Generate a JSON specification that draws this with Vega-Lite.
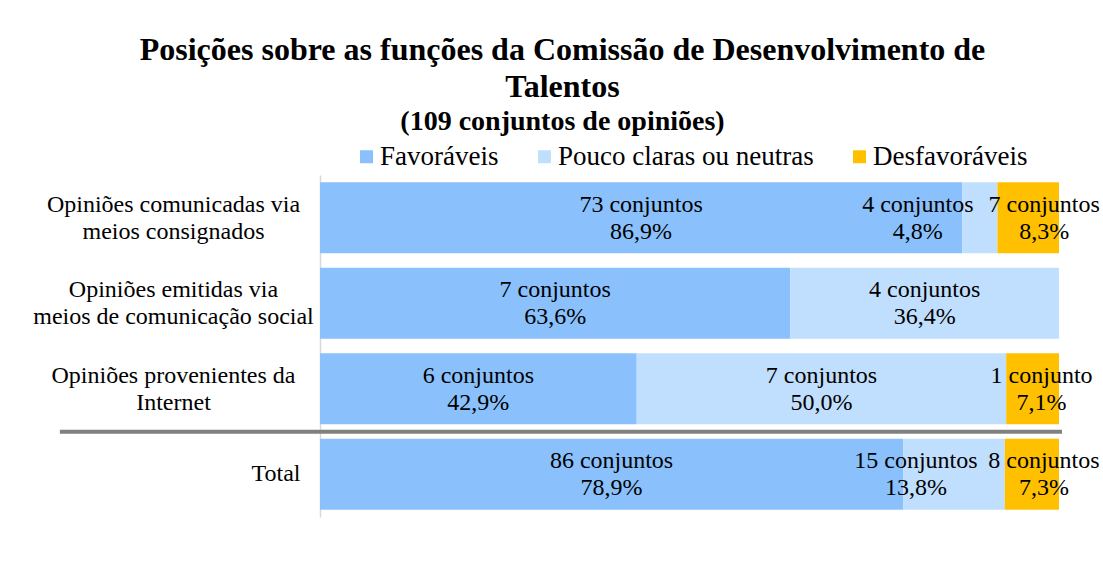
{
  "$schema": "https://vega.github.io/schema/vega-lite/v6.json",
  "width": 739,
  "height": 342,
  "autosize": {"type": "none"},
  "padding": {"left": 320, "top": 175, "right": 44, "bottom": 51},
  "background": "white",
  "config": {"view": {"stroke": null}, "font": "Liberation Serif"},
  "title": {
    "text": ["Posições sobre as funções da Comissão de Desenvolvimento de", "Talentos"],
    "subtitle": "(109 conjuntos de opiniões)",
    "font": "Liberation Serif",
    "fontSize": 32,
    "fontWeight": "bold",
    "lineHeight": 37,
    "color": "black",
    "subtitleFont": "Liberation Serif",
    "subtitleFontSize": 28,
    "subtitleFontWeight": "bold",
    "subtitleColor": "black",
    "subtitleLineHeight": 28,
    "subtitlePadding": 4,
    "anchor": "middle",
    "dx": -127,
    "offset": 6
  },
  "data": {
    "values": [
      {"category": "Opiniões comunicadas via|meios consignados", "group": "Favoráveis", "ord": 1, "count": 73, "label": "73 conjuntos\n86,9%"},
      {"category": "Opiniões comunicadas via|meios consignados", "group": "Pouco claras ou neutras", "ord": 2, "count": 4, "label": "4 conjuntos\n4,8%"},
      {"category": "Opiniões comunicadas via|meios consignados", "group": "Desfavoráveis", "ord": 3, "count": 7, "label": "7 conjuntos\n8,3%"},
      {"category": "Opiniões emitidas via|meios de comunicação social", "group": "Favoráveis", "ord": 1, "count": 7, "label": "7 conjuntos\n63,6%"},
      {"category": "Opiniões emitidas via|meios de comunicação social", "group": "Pouco claras ou neutras", "ord": 2, "count": 4, "label": "4 conjuntos\n36,4%"},
      {"category": "Opiniões provenientes da|Internet", "group": "Favoráveis", "ord": 1, "count": 6, "label": "6 conjuntos\n42,9%"},
      {"category": "Opiniões provenientes da|Internet", "group": "Pouco claras ou neutras", "ord": 2, "count": 7, "label": "7 conjuntos\n50,0%"},
      {"category": "Opiniões provenientes da|Internet", "group": "Desfavoráveis", "ord": 3, "count": 1, "label": "1 conjunto\n7,1%"},
      {"category": "Total", "group": "Favoráveis", "ord": 1, "count": 86, "label": "86 conjuntos\n78,9%"},
      {"category": "Total", "group": "Pouco claras ou neutras", "ord": 2, "count": 15, "label": "15 conjuntos\n13,8%"},
      {"category": "Total", "group": "Desfavoráveis", "ord": 3, "count": 8, "label": "8 conjuntos\n7,3%"}
    ]
  },
  "layer": [
    {
      "mark": {"type": "bar"},
      "encoding": {
        "y": {
          "field": "category",
          "type": "nominal",
          "scale": {
            "domain": ["Opiniões comunicadas via|meios consignados", "Opiniões emitidas via|meios de comunicação social", "Opiniões provenientes da|Internet", "Total"],
            "paddingInner": 0.17,
            "paddingOuter": 0.085
          },
          "axis": {
            "title": null,
            "labelExpr": "split(datum.label, '|')",
            "labelFont": "Liberation Serif",
            "labelFontSize": 24,
            "labelColor": "black",
            "labelLineHeight": 27,
            "labelLimit": 0,
            "labelAlign": {"condition": {"test": "datum.value === 'Total'", "value": "right"}, "value": "center"},
            "labelPadding": {"condition": {"test": "datum.value === 'Total'", "value": 20}, "value": 147},
            "labelOffset": {"condition": {"test": "datum.value === 'Total'", "value": 0}, "value": -13},
            "ticks": false,
            "domainColor": "#d9d9d9",
            "domainWidth": 1.5
          }
        },
        "x": {
          "field": "count",
          "type": "quantitative",
          "stack": "normalize",
          "scale": {"domain": [0, 1], "nice": false},
          "axis": null
        },
        "color": {
          "field": "group",
          "type": "nominal",
          "scale": {
            "domain": ["Favoráveis", "Pouco claras ou neutras", "Desfavoráveis"],
            "range": ["#8AC1FD", "#C0DFFE", "#FFC000"]
          },
          "legend": {
            "orient": "none",
            "legendX": 33,
            "legendY": -32,
            "direction": "horizontal",
            "title": null,
            "symbolType": "square",
            "symbolSize": 169,
            "symbolStrokeWidth": 0,
            "labelFont": "Liberation Serif",
            "labelFontSize": 27,
            "labelLimit": 0,
            "labelColor": "black",
            "columnPadding": 32,
            "labelOffset": 0
          }
        },
        "order": {"field": "ord", "type": "quantitative"}
      }
    },
    {
      "mark": {
        "type": "text",
        "font": "Liberation Serif",
        "fontSize": 24,
        "color": "black",
        "lineBreak": "\n",
        "lineHeight": 27,
        "baseline": "middle",
        "align": "center",
        "dy": -13,
        "dx": {"expr": "datum.group === 'Desfavoráveis' ? (indexof(datum.category, 'comunicadas') >= 0 ? 16 : (indexof(datum.category, 'Internet') >= 0 ? 9 : 12)) : (datum.group === 'Pouco claras ou neutras' && datum.category === 'Total' ? -38 : (datum.group === 'Pouco claras ou neutras' && indexof(datum.category, 'comunicadas') >= 0 ? -62 : 0))"}
      },
      "encoding": {
        "y": {"field": "category", "type": "nominal"},
        "x": {
          "field": "count",
          "type": "quantitative",
          "stack": "normalize",
          "bandPosition": 0.5,
          "scale": {"domain": [0, 1], "nice": false}
        },
        "detail": {"field": "group", "type": "nominal"},
        "order": {"field": "ord", "type": "quantitative"},
        "text": {"field": "label", "type": "nominal"}
      }
    },
    {
      "data": {"values": [{"category": "Total", "from": -0.352, "to": 1.004}]},
      "mark": {"type": "rule", "color": "#808080", "strokeWidth": 4, "yOffset": -7},
      "encoding": {
        "y": {"field": "category", "type": "nominal", "bandPosition": 0},
        "x": {"field": "from", "type": "quantitative", "scale": {"domain": [0, 1], "nice": false}},
        "x2": {"field": "to"}
      }
    }
  ]
}
